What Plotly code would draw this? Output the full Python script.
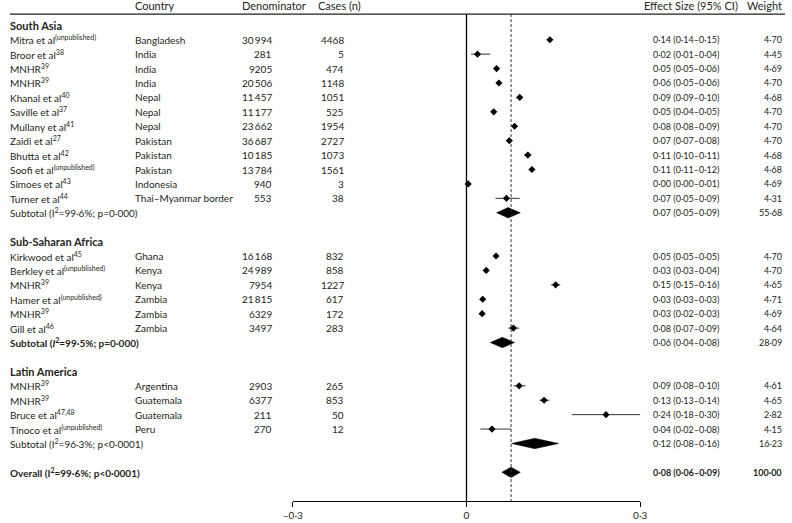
import plotly.graph_objects as go

# ---------------- data ----------------
regions = ["South Asia", "Sub-Saharan Africa", "Latin America"]
study = [
    "Mitra et al<sup>(unpublished)</sup>", "Broor et al<sup>38</sup>", "MNHR<sup>39</sup>", "MNHR<sup>39</sup>",
    "Khanal et al<sup>40</sup>", "Saville et al<sup>37</sup>", "Mullany et al<sup>41</sup>", "Zaidi et al<sup>27</sup>",
    "Bhutta et al<sup>42</sup>", "Soofi et al<sup>(unpublished)</sup>", "Simoes et al<sup>43</sup>", "Turner et al<sup>44</sup>",
    "Kirkwood et al<sup>45</sup>", "Berkley et al<sup>(unpublished)</sup>", "MNHR<sup>39</sup>", "Hamer et al<sup>(unpublished)</sup>",
    "MNHR<sup>39</sup>", "Gill et al<sup>46</sup>",
    "MNHR<sup>39</sup>", "MNHR<sup>39</sup>", "Bruce et al<sup>47,48</sup>", "Tinoco et al<sup>(unpublished)</sup>",
]
country = [
    "Bangladesh", "India", "India", "India", "Nepal", "Nepal", "Nepal", "Pakistan", "Pakistan", "Pakistan",
    "Indonesia", "Thai–Myanmar border",
    "Ghana", "Kenya", "Kenya", "Zambia", "Zambia", "Zambia",
    "Argentina", "Guatemala", "Guatemala", "Peru",
]
region = [0] * 12 + [1] * 6 + [2] * 4
denominator = [30994, 281, 9205, 20506, 11457, 11177, 23662, 36687, 10185, 13784, 940, 553,
               16168, 24989, 7954, 21815, 6329, 3497,
               2903, 6377, 211, 270]
cases = [4468, 5, 474, 1148, 1051, 525, 1954, 2727, 1073, 1561, 3, 38,
         832, 858, 1227, 617, 172, 283,
         265, 853, 50, 12]
effect = [0.144, 0.019, 0.052, 0.056, 0.092, 0.047, 0.083, 0.074, 0.106, 0.113, 0.003, 0.069,
          0.051, 0.034, 0.154, 0.028, 0.027, 0.081,
          0.091, 0.134, 0.241, 0.044]
lower = [0.141, 0.008, 0.048, 0.053, 0.087, 0.043, 0.079, 0.071, 0.100, 0.108, 0.002, 0.050,
         0.048, 0.032, 0.146, 0.026, 0.023, 0.072,
         0.081, 0.126, 0.182, 0.024]
upper = [0.147, 0.041, 0.056, 0.059, 0.097, 0.051, 0.086, 0.077, 0.112, 0.118, 0.006, 0.092,
         0.054, 0.036, 0.162, 0.030, 0.031, 0.091,
         0.102, 0.143, 0.301, 0.077]
weight = [4.70, 4.45, 4.69, 4.70, 4.68, 4.70, 4.70, 4.70, 4.68, 4.68, 4.69, 4.31,
          4.70, 4.70, 4.65, 4.71, 4.69, 4.64,
          4.61, 4.65, 2.82, 4.15]

subtotal_label = [
    "Subtotal (I<sup>2</sup>=99·6%; p=0·000)",
    "<b>Subtotal (<i>I</i><sup>2</sup>=99·5%; p=0·000)</b>",
    "Subtotal (I<sup>2</sup>=96·3%; p&lt;0·0001)",
]
subtotal_effect = [0.072, 0.062, 0.118]
subtotal_lower = [0.052, 0.041, 0.078]
subtotal_upper = [0.093, 0.083, 0.159]
subtotal_weight = [55.68, 28.09, 16.23]

overall_label = "<b>Overall (I<sup>2</sup>=99·6%; p&lt;0·0001)</b>"
overall_effect = 0.077
overall_lower = 0.061
overall_upper = 0.093
overall_weight = 100.00

header_labels = ["Country", "Denominator", "Cases (n)", "Effect Size (95% CI)", "Weight"]
x_ticks = [-0.3, 0, 0.3]
x_tick_labels = ["–0·3", "0", "0·3"]

# ---------------- helpers ----------------
W, H = 792, 523
FONT = "Lato"
TXT = "#231f20"
FS = 10


def dec(v, n=2):
    return f"{v:.{n}f}".replace(".", "·")


def intfmt(n):
    return f"{n:,}".replace(",", "\u2009") if n >= 10000 else str(n)


def ci_text(e, lo, hi):
    return f"{dec(e)} ({dec(lo)}–{dec(hi)})"


# row positions (row units)
study_row, region_row, subtotal_row = [], [], []
k = 0
for r in range(len(regions)):
    region_row.append(k)
    k += 1
    for i, g in enumerate(region):
        if g == r:
            study_row.append(k)
            k += 1
    subtotal_row.append(k)
    k += 2
overall_row = k
axis_row = overall_row + 2
header_row = -1.34
header_line_row = -0.78

ROW_PX = 14.42
ROW0_PX = 25.3
axis_px = ROW0_PX + axis_row * ROW_PX
y_top = -ROW0_PX / ROW_PX
dom_bottom = (H - axis_px) / H

fig = go.Figure()

# CI lines + point estimates
fig.add_trace(go.Scatter(
    x=effect, y=study_row, mode="markers",
    marker=dict(symbol="diamond", size=5.5, color="black"),
    error_x=dict(type="data", symmetric=False,
                 array=[u - e for u, e in zip(upper, effect)],
                 arrayminus=[e - l for e, l in zip(effect, lower)],
                 width=0, thickness=1, color="#333333"),
    hoverinfo="skip", showlegend=False,
))

# pooled diamonds
DH = 0.36
pooled = list(zip(subtotal_effect, subtotal_lower, subtotal_upper, subtotal_row)) + \
    [(overall_effect, overall_lower, overall_upper, overall_row)]
for e, lo, hi, rr in pooled:
    fig.add_trace(go.Scatter(
        x=[lo, e, hi, e, lo], y=[rr, rr - DH, rr, rr + DH, rr],
        mode="lines", fill="toself", fillcolor="black",
        line=dict(color="black", width=0.5),
        hoverinfo="skip", showlegend=False,
    ))

shapes = [
    dict(type="line", xref="paper", yref="y", x0=0, x1=1, y0=header_line_row, y1=header_line_row,
         line=dict(color="#231f20", width=1.3)),
    dict(type="line", xref="x", yref="y", x0=0, x1=0, y0=header_line_row, y1=axis_row,
         line=dict(color="black", width=1.3)),
    dict(type="line", xref="x", yref="y", x0=overall_effect, x1=overall_effect,
         y0=header_line_row, y1=axis_row,
         line=dict(color="#333333", width=1, dash="3px,2px")),
]

ann = []


def add(text, xpx, y, anchor="left", bold=False, size=FS):
    if bold:
        text = f"<b>{text}</b>"
    ann.append(dict(text=text, x=xpx / W, xref="paper", y=y, yref="y",
                    xanchor=anchor, yanchor="middle", showarrow=False,
                    font=dict(family=FONT, size=size, color=TXT), borderpad=0, borderwidth=0))


# header
hx = [(128, "left"), (237, "left"), (315, "left"), (648, "left"), (789, "right")]
for lab, (xp, an) in zip(header_labels, hx):
    add(lab, xp, header_row, an, size=11)

EFS = 9
# regions
for r, name in enumerate(regions):
    add(name, 0, region_row[r], bold=True, size=11)
    add(subtotal_label[r], 0, subtotal_row[r])
    add(ci_text(subtotal_effect[r], subtotal_lower[r], subtotal_upper[r]), 657, subtotal_row[r], size=EFS)
    add(dec(subtotal_weight[r]), 789, subtotal_row[r], "right", size=EFS)

# studies
for i in range(len(study)):
    y = study_row[i]
    add(study[i], 0, y)
    add(country[i], 128, y)
    add(intfmt(denominator[i]), 268, y, "right")
    add(str(cases[i]), 341, y, "right")
    add(ci_text(effect[i], lower[i], upper[i]), 657, y, size=EFS)
    add(dec(weight[i]), 789, y, "right", size=EFS)

# overall
add(overall_label, 0, overall_row)
add(ci_text(overall_effect, overall_lower, overall_upper), 657, overall_row, bold=True, size=EFS)
add(dec(overall_weight), 789, overall_row, "right", bold=True, size=EFS)

fig.update_layout(
    width=W, height=H,
    margin=dict(l=0, r=0, t=0, b=0, pad=0),
    paper_bgcolor="white", plot_bgcolor="white",
    showlegend=False,
    shapes=shapes, annotations=ann,
    xaxis=dict(domain=[289 / W, 644 / W], range=[-0.3, 0.3],
               showgrid=False, zeroline=False, showline=True, linecolor="black", linewidth=1.3,
               ticks="outside", ticklen=5, tickwidth=1.3, tickcolor="black",
               tickvals=x_ticks, ticktext=x_tick_labels,
               tickfont=dict(family=FONT, size=FS, color=TXT)),
    yaxis=dict(domain=[dom_bottom, 1], range=[axis_row, y_top], visible=False,
               showgrid=False, zeroline=False),
)

fig.write_html("out.html", config={"displayModeBar": False},
               post_script="document.body.style.margin='0';document.body.style.overflow='hidden';")
